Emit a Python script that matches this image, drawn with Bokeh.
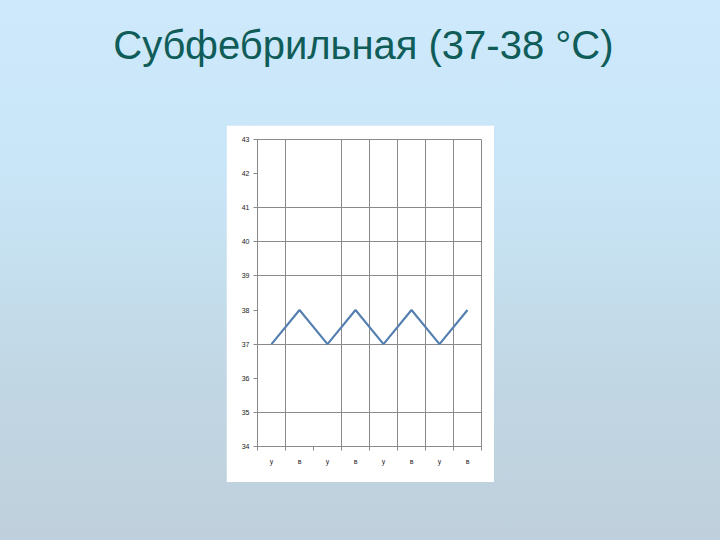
from bokeh.plotting import figure
from bokeh.layouts import column
from bokeh.models import (Range1d, FixedTicker, ColumnDataSource, Label,
                          GlobalInlineStyleSheet)
from bokeh.embed import file_html
from bokeh.resources import INLINE

# ---- data ----
title_text = "Субфебрильная (37-38 °C)"
categories = ["у", "в", "у", "в", "у", "в", "у", "в"]
temps = [37, 38, 37, 38, 37, 38, 37, 38]
y_ticks = [34, 35, 36, 37, 38, 39, 40, 41, 42, 43]
y_grid_visible = [35, 37, 39, 40, 41]
x_grid_visible = [1, 3, 4, 5, 6, 7]

# ---- page background ----
bg = GlobalInlineStyleSheet(css=(
    "html{min-height:100%;background:linear-gradient(to bottom,"
    "#cde9fb 0%,#c9e6f8 30%,#c5dfee 50%,#c1d6e3 72%,#bfd0dc 100%);}"
    "body{background:transparent;}"))

# ---- title ----
tp = figure(width=704, height=125, x_range=Range1d(0, 704), y_range=Range1d(0, 125),
            toolbar_location=None, output_backend="svg", min_border=0,
            x_axis_type=None, y_axis_type=None, outline_line_color=None,
            background_fill_alpha=0, border_fill_alpha=0)
tp.grid.visible = False
tp.add_layout(Label(x=354, y=81, text=title_text, text_font="Liberation Sans",
                    text_font_size="40px", text_align="center",
                    text_baseline="alphabetic", text_color="#0f5c58"))

# ---- chart ----
xs = [i + 0.5 for i in range(len(categories))]
src = ColumnDataSource(dict(x=xs, y=temps))

p = figure(width=268, height=357, x_range=Range1d(0, len(categories)),
           y_range=Range1d(y_ticks[0], y_ticks[-1]),
           toolbar_location=None, output_backend="svg",
           min_border_left=31, min_border_right=13, min_border_top=14,
           min_border_bottom=36, background_fill_color="white",
           border_fill_color="white", outline_line_color="#8a8a8a",
           margin=(0, 0, 0, 226))

p.line("x", "y", source=src, line_color="#5580b0", line_width=2.2)

gc = "#8a8a8a"
p.yaxis.ticker = FixedTicker(ticks=y_ticks)
p.yaxis.major_tick_out = 4
p.yaxis.major_tick_in = 0
p.yaxis.major_label_standoff = 4
p.xaxis.ticker = FixedTicker(ticks=xs, minor_ticks=list(range(len(categories) + 1)))
p.xaxis.major_label_overrides = {x: c for x, c in zip(xs, categories)}
p.xaxis.major_tick_out = 0
p.xaxis.major_tick_in = 0
p.xaxis.minor_tick_out = 4
p.xaxis.minor_tick_in = 0
p.xaxis.major_label_standoff = 7
for ax in (p.xaxis, p.yaxis):
    ax.axis_line_color = gc
    ax.major_tick_line_color = gc
    ax.major_label_text_font = "Liberation Sans"
    ax.major_label_text_font_size = "7px"
    ax.major_label_text_color = "#222222"
p.yaxis.minor_tick_line_color = None
p.xaxis.minor_tick_line_color = gc

p.xgrid.ticker = FixedTicker(ticks=x_grid_visible)
p.ygrid.ticker = FixedTicker(ticks=y_grid_visible)
p.grid.grid_line_color = gc
p.grid.grid_line_alpha = 1.0

layout = column(tp, p, stylesheets=[bg])
open("out.html", "w").write(file_html(layout, INLINE))
